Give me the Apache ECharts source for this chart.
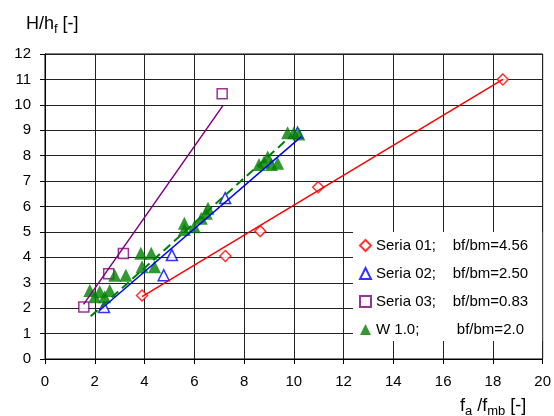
<!DOCTYPE html>
<html>
<head>
<meta charset="utf-8">
<script src="https://cdn.jsdelivr.net/npm/echarts@6/dist/echarts.min.js"></script>
<style>
html, body { margin: 0; padding: 0; background: #fff; }
#chart { width: 554px; height: 416px; }
</style>
</head>
<body>
<div id="chart"></div>
<script>
// measured points [fa/fmb, H/hf]
const seria01 = [[3.9, 2.5], [7.25, 4.05], [8.65, 5.03], [10.98, 6.76], [18.4, 11.0]]
const seria02 = [[2.37, 2.05], [4.77, 3.3], [5.1, 4.09], [7.24, 6.33], [10.15, 8.9]]
const seria03 = [[1.56, 2.05], [2.56, 3.35], [3.15, 4.15], [7.12, 10.44]]
const w10 = [
	[1.8, 2.7], [2.0, 2.45], [2.2, 2.65], [2.4, 2.45], [2.6, 2.7],
	[2.8, 3.3], [3.25, 3.3],
	[3.85, 4.16], [4.27, 4.16], [3.9, 3.63], [4.4, 3.63],
	[5.6, 5.34], [5.6, 5.1], [6.0, 5.2], [6.28, 5.54], [6.48, 5.73], [6.55, 5.93],
	[8.6, 7.65], [8.8, 7.75], [8.95, 7.95], [9.1, 7.65], [9.35, 7.7],
	[9.75, 8.9], [10.0, 8.9], [10.2, 8.85],
]
// trend lines (end points)
const fit01 = [[3.9, 2.45], [18.4, 11.0]]
const fit02 = [[2.2, 1.92], [10.3, 8.75]]
const fit03 = [[1.55, 2.15], [7.15, 9.97]]
const fitW = [[1.84, 1.68], [9.8, 8.7]]

const names = [
	'Seria 01;    bf/bm=4.56',
	'Seria 02;    bf/bm=2.50',
	'Seria 03;    bf/bm=0.83',
	'W 1.0;         bf/bm=2.0',
]

const font = "'Liberation Sans', Arial, sans-serif"

const chart = echarts.init(document.getElementById('chart'))

function markers(name, data, symbol, size, color, filled) {
	return {
		name: name,
		type: 'scatter',
		data: data,
		symbol: symbol,
		symbolSize: size,
		itemStyle: filled
			? { color: color }
			: { color: '#fff', borderColor: color, borderWidth: 1.5 },
		z: 3,
	}
}

function trend(data, color, width, dash) {
	return {
		type: 'line',
		data: data,
		showSymbol: false,
		symbol: 'none',
		lineStyle: { color: color, width: width, type: dash || 'solid' },
		z: 4,
		silent: true,
	}
}

chart.setOption({
	animation: false,
	textStyle: { fontFamily: font },
	title: [
		{
			text: 'H/h{sub|f} [-]',
			left: 26,
			top: 12,
			padding: 0,
			textStyle: {
				fontFamily: font,
				fontSize: 18,
				fontWeight: 'normal',
				color: '#000',
				lineHeight: 24,
				rich: {
					sub: { fontFamily: font, fontSize: 13, color: '#000', verticalAlign: 'bottom', lineHeight: 24 },
				},
			},
		},
		{
			text: 'f{sub|a} /f{sub|mb} [-]',
			left: 460,
			top: 394,
			padding: 0,
			textStyle: {
				fontFamily: font,
				fontSize: 18,
				fontWeight: 'normal',
				color: '#000',
				lineHeight: 24,
				rich: {
					sub: { fontFamily: font, fontSize: 13, color: '#000', verticalAlign: 'bottom', lineHeight: 24 },
				},
			},
		},
	],
	grid: {
		left: 45,
		right: 9,
		top: 54,
		bottom: 57,
		show: true,
		borderColor: '#000',
		borderWidth: 1,
		containLabel: false,
	},
	legend: {
		orient: 'vertical',
		left: 353,
		top: 232,
		padding: [6, 14, 4, 6],
		backgroundColor: '#fff',
		itemWidth: 11,
		itemHeight: 11,
		itemGap: 13,
		textStyle: { fontFamily: font, fontSize: 15, color: '#000' },
		data: names,
		z: 10,
	},
	xAxis: {
		type: 'value',
		min: 0,
		max: 20,
		interval: 2,
		axisLine: { show: true, lineStyle: { color: '#000', width: 1 } },
		axisTick: { show: true, length: 5, lineStyle: { color: '#000' } },
		axisLabel: { fontFamily: font, fontSize: 15, color: '#000', margin: 15 },
		splitLine: { show: true, lineStyle: { color: '#222', width: 1 } },
	},
	yAxis: {
		type: 'value',
		min: 0,
		max: 12,
		interval: 1,
		axisLine: { show: true, lineStyle: { color: '#000', width: 1 } },
		axisTick: { show: true, length: 5, lineStyle: { color: '#000' } },
		axisLabel: { fontFamily: font, fontSize: 15, color: '#000', margin: 14 },
		splitLine: { show: true, lineStyle: { color: '#222', width: 1 } },
	},
	series: [
		markers(names[0], seria01, 'diamond', 11, '#ff0000', false),
		markers(names[1], seria02, 'triangle', 11, '#0000ff', false),
		markers(names[2], seria03, 'rect', 10, '#800080', false),
		markers(names[3], w10, 'triangle', 13, '#008000', true),
		trend(fit01, '#ff0000', 1.5),
		trend(fit02, '#0000ff', 1.5),
		trend(fit03, '#800080', 1.5),
		trend(fitW, '#008000', 2, [9, 5]),
	],
})
</script>
</body>
</html>
